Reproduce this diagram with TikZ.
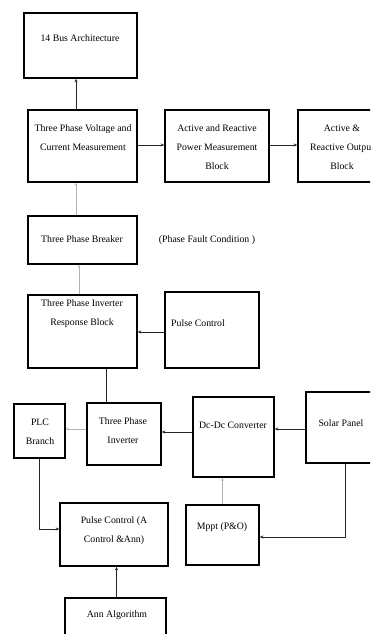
\documentclass[tikz,border=0pt]{standalone}
\usepackage{fontspec}
\setmainfont{Liberation Serif}
\usetikzlibrary{arrows.meta}
\begin{document}
\begin{tikzpicture}[x=1pt,y=-1pt,
  box/.style={draw=black, line width=1.6pt, rectangle, inner sep=0pt},
  txt/.style={align=center, inner sep=0pt, font=\fontsize{9.8}{19}\selectfont},
  arr/.style={draw=black!85, line width=0.9pt, -{Stealth[length=3.5pt,width=3pt]}},
  faint/.style={draw=black!30, line width=0.8pt, -{Stealth[length=3pt,width=2.5pt]}},
  plain/.style={draw=black!85, line width=1pt}]
\clip (0,0) rectangle (370,634);
\fill[white] (0,0) rectangle (370,634);

% blocks
\node[box, minimum width=113pt, minimum height=65pt] (bus)  at (80.5,45.5) {};
\node[box, minimum width=109pt, minimum height=72pt] (vm)   at (82.5,146) {};
\node[box, minimum width=104pt, minimum height=72pt] (apm)  at (217,146) {};
\node[box, minimum width=80pt,  minimum height=72pt] (aro)  at (338,146) {};
\node[box, minimum width=109pt, minimum height=48pt] (brk)  at (82.5,240) {};
\node[box, minimum width=109pt, minimum height=73pt] (resp) at (82.5,331.5) {};
\node[box, minimum width=94pt,  minimum height=76pt] (pc)   at (212,330) {};
\node[box, minimum width=51pt,  minimum height=54pt] (plc)  at (39.5,431) {};
\node[box, minimum width=74pt,  minimum height=62pt] (inv)  at (124,434) {};
\node[box, minimum width=81pt,  minimum height=80pt] (dc)   at (233.5,437) {};
\node[box, minimum width=74pt,  minimum height=71pt] (sol)  at (343,427.5) {};
\node[box, minimum width=108pt, minimum height=63pt] (pca)  at (114,534.5) {};
\node[box, minimum width=73pt,  minimum height=60pt] (mppt) at (222.5,535) {};
\node[box, minimum width=101pt, minimum height=52pt] (ann)  at (115.5,624) {};

% block texts
\node[txt] (tbus)  at (80,38)    {14 Bus Architecture};
\node[txt] (tvm)   at (83,137.5) {Three Phase Voltage and\\Current Measurement};
\node[txt] (tapm)  at (217,147)  {Active and Reactive\\Power Measurement\\Block};
\node[txt] (taro)  at (342,147)  {Active \&\\Reactive Output\\Block};
\node[txt] (tbrk)  at (82,239)   {Three Phase Breaker};
\node[txt] (tfault) at (207,240) {(Phase Fault Condition )};
\node[txt] (tresp) at (82,314)   {Three Phase Inverter\\Response Block};
\node[txt] (tpc)   at (198,323)  {Pulse Control};
\node[txt] (tplc)  at (40,432)   {PLC\\Branch};
\node[txt] (tinv)  at (123,431)  {Three Phase\\Inverter};
\node[txt] (tdc)   at (233,425)  {Dc-Dc Converter};
\node[txt] (tsol)  at (341,423)  {Solar Panel};
\node[txt] (tpca)  at (114,531)  {Pulse Control (A\\Control \&Ann)};
\node[txt] (tmppt) at (222,527)  {Mppt (P\&O)};
\node[txt] (tann)  at (117,615)  {Ann Algorithm};

% connectors
\draw[arr] ([xshift=-6.5pt]vm.north) -- ([xshift=-6.5pt]vm.north |- bus.south);
\draw[arr] ([yshift=1pt]vm.east) -- ([yshift=1pt]apm.west);
\draw[arr] ([yshift=1pt]apm.east) -- ([yshift=1pt]aro.west);
\draw[faint] ([xshift=-6.5pt]brk.north) -- ([xshift=-6.5pt]brk.north |- vm.south);
\draw[faint] ([xshift=-3.5pt]resp.north) -- ([xshift=-3.5pt]resp.north |- brk.south);
\draw[arr] ([yshift=-2pt]pc.west) -- ([yshift=-2pt]pc.west -| resp.east);
\draw[plain] ([xshift=-18pt]inv.north) -- ([xshift=-18pt]inv.north |- resp.south);
\draw[faint] ([yshift=5pt]inv.west) -- ([yshift=5pt]inv.west -| plc.east);
\draw[arr] ([yshift=5pt]dc.west) -- ([yshift=5pt]dc.west -| inv.east);
\draw[arr] ([yshift=-1.5pt]sol.west) -- ([yshift=-1.5pt]sol.west -| dc.east);
\draw[faint] (mppt.north) -- (mppt.north |- dc.south);
\draw[arr] ([xshift=2pt]sol.south) |- ([yshift=-2pt]mppt.east);
\draw[arr] (plc.south) |- ([yshift=5.5pt]pca.west);
\draw[arr] ([xshift=1pt]ann.north) -- ([xshift=1pt]ann.north |- pca.south);
\end{tikzpicture}
\end{document}
